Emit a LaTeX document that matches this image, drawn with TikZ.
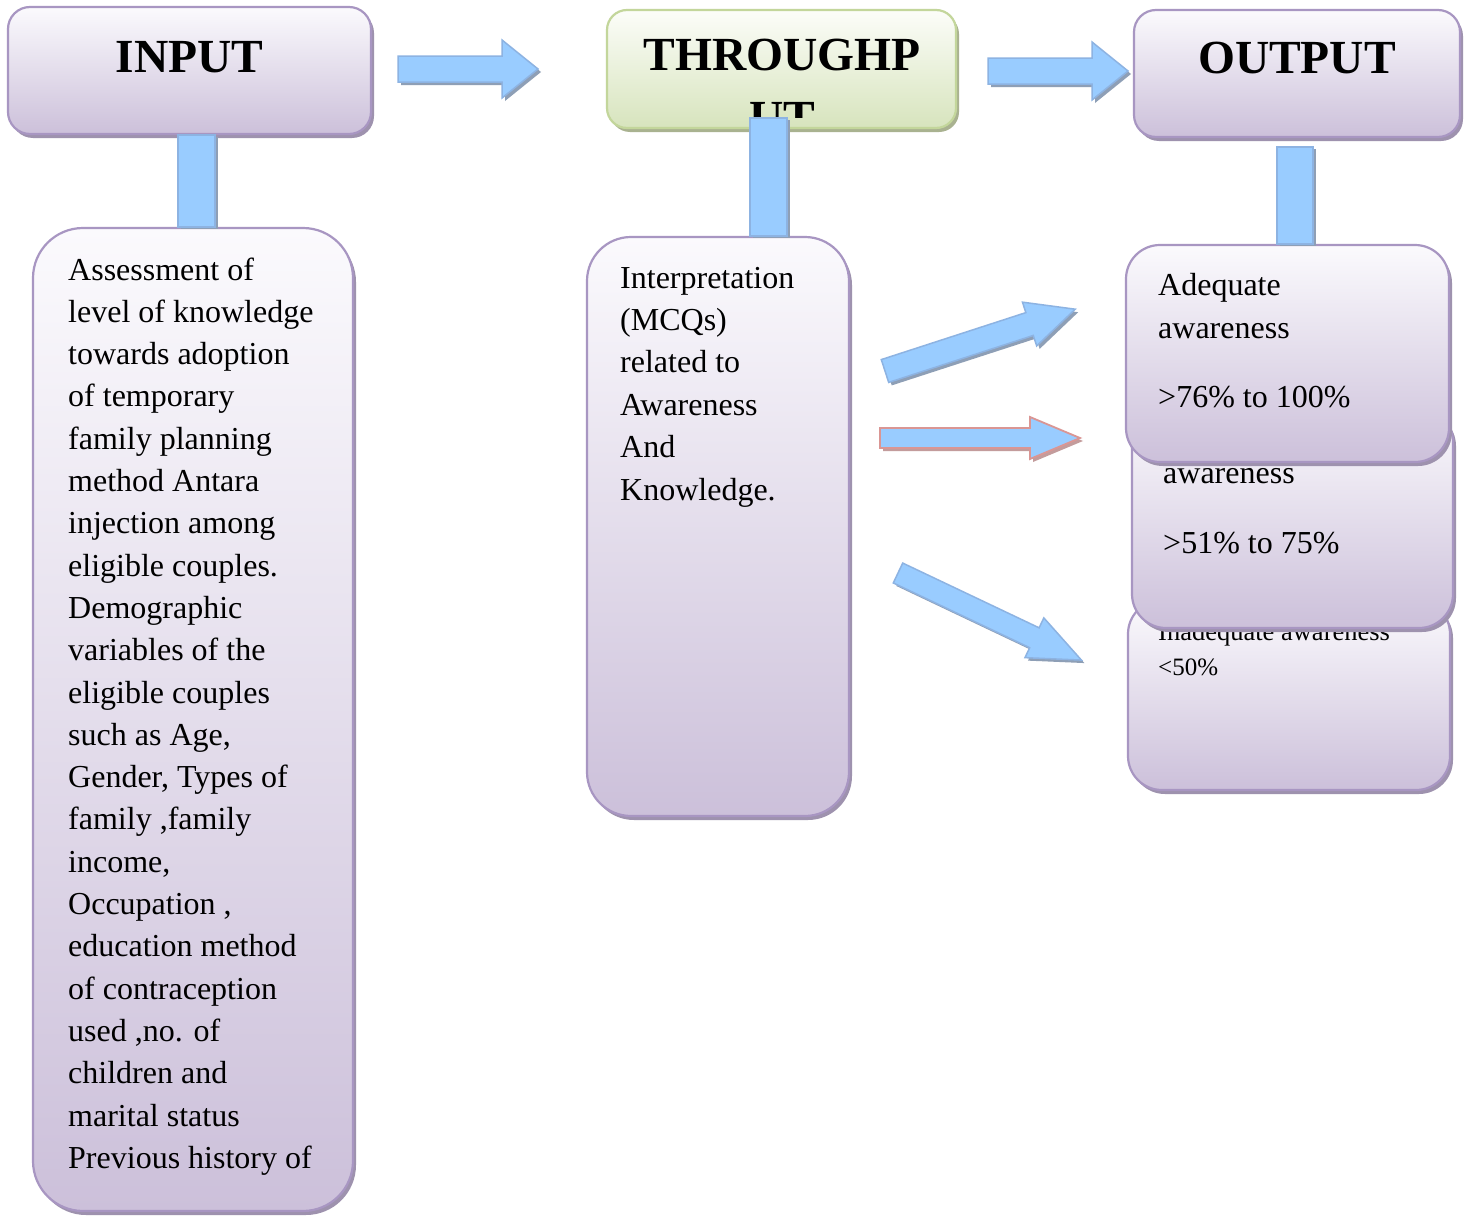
\documentclass[tikz,border=0pt]{standalone}
\usepackage{fontspec}
\setmainfont{Liberation Serif}
\usetikzlibrary{shadows,calc}
\definecolor{boxtop}{HTML}{FBFAFD}
\definecolor{boxbot}{HTML}{CCC0DA}
\definecolor{boxborder}{HTML}{A896C2}
\definecolor{boxshadow}{HTML}{9E92AE}
\definecolor{gtop}{HTML}{FCFDF9}
\definecolor{gbot}{HTML}{D7E4BD}
\definecolor{gborder}{HTML}{C3D69B}
\definecolor{gshadow}{HTML}{A9B290}
\definecolor{arrowfill}{HTML}{99CCFF}
\definecolor{arrowborder}{HTML}{8DB3E2}
\definecolor{arrowshadow}{HTML}{8E9FB6}
\definecolor{redborder}{HTML}{DA9694}
\definecolor{redshadow}{HTML}{C39C9C}
\tikzset{
  pbox/.style={draw=boxborder, line width=2.2pt, top color=boxtop, bottom color=boxbot,
    drop shadow={shadow xshift=3pt, shadow yshift=-4pt, fill=boxshadow, opacity=1},
    inner sep=0pt, rectangle},
  gbox/.style={draw=gborder, line width=2.2pt, top color=gtop, bottom color=gbot,
    drop shadow={shadow xshift=3pt, shadow yshift=-4pt, fill=gshadow, opacity=1},
    inner sep=0pt, rectangle},
  bodytxt/.style={font=\fontsize{32}{42}\selectfont, inner sep=0pt, anchor=base west},
  headtxt/.style={font=\fontsize{47.5}{50}\selectfont\bfseries, inner sep=0pt, anchor=base},
  barsty/.style={draw=arrowborder, line width=1.5pt, fill=arrowfill,
    drop shadow={shadow xshift=3pt, shadow yshift=-2pt, fill=arrowshadow, opacity=1}},
  arrowsty/.style={draw=arrowborder, line width=1.5pt, fill=arrowfill, line join=miter},
  arrowshad/.style={fill=arrowshadow},
  redarrow/.style={draw=redborder, line width=1.8pt, fill=arrowfill, line join=miter},
  redshad/.style={fill=redshadow},
}
% #1 tail coordinate, #2 angle, #3 length, #4 shaft half, #5 head half, #6 head length, #7 style, #8 shadow style
\newcommand\blockarrow[8]{%
  \begin{scope}[shift={([shift={(3pt,-3pt)}]#1)}, rotate=#2]
    \fill[#8] (0,-#4) -- ({#3-#6},-#4) -- ({#3-#6},-#5) -- (#3,0) -- ({#3-#6},#5) -- ({#3-#6},#4) -- (0,#4) -- cycle;
  \end{scope}
  \begin{scope}[shift={(#1)}, rotate=#2]
    \draw[#7] (0,-#4) -- ({#3-#6},-#4) -- ({#3-#6},-#5) -- (#3,0) -- ({#3-#6},#5) -- ({#3-#6},#4) -- (0,#4) -- cycle;
  \end{scope}}
\begin{document}
\begin{tikzpicture}[x=1pt, y=-1pt]
\useasboundingbox (0,0) rectangle (1468,1218);
\fill[white] (0,0) rectangle (1468,1218);

% top boxes
\node[pbox, rounded corners=22pt, minimum width=363pt, minimum height=127pt] (in) at (189.5,70.5) {};
\node[gbox, rounded corners=20pt, minimum width=349pt, minimum height=118pt] (thr) at (781.5,69) {};
\node[pbox, rounded corners=22pt, minimum width=326pt, minimum height=127pt] (out) at (1297,73.5) {};

\node[headtxt] (inT) at (189.5,72) {INPUT};
\node[headtxt] (thrT) at (782,70) {THROUGHP};
\begin{scope}
  \clip (607,10) rectangle (958,117);
  \node[headtxt] (thrT2) at (782,133) {UT};
\end{scope}
\node[headtxt] (outT) at (1297,73) {OUTPUT};

% arrows between top boxes
\coordinate (a1) at (398,69);
\coordinate (a2) at (988,71);
\blockarrow{a1}{0}{140}{13}{29}{36}{arrowsty}{arrowshad}
\blockarrow{a2}{0}{140}{13}{29}{36}{arrowsty}{arrowshad}

% left big box
\node[pbox, rounded corners=50pt, minimum width=320pt, minimum height=983pt] (lbox) at (193,719.5) {};
\foreach \t [count=\i] in {Assessment of, level of knowledge, towards adoption, of temporary,
  family planning, method Antara, injection among, eligible couples., Demographic,
  variables of the, eligible couples, {such as Age,}, {Gender, Types of}, {family ,family},
  {income,}, {Occupation ,}, education method, of contraception, {used ,no. of},
  children and, marital status, Previous history of}
  \node[bodytxt] (l\i) at (68,{280+42.3*(\i-1)}) {\t};

% middle box
\node[pbox, rounded corners=44pt, minimum width=262pt, minimum height=579pt] (mid) at (718,526.5) {};
\foreach \t [count=\i] in {Interpretation, (MCQs), related to, Awareness, And, Knowledge.}
  \node[bodytxt] (m\i) at (620,{288+42.4*(\i-1)}) {\t};

% output boxes (bottom first)
\node[pbox, rounded corners=34pt, minimum width=322pt, minimum height=190pt] (o3) at (1289,695) {};
\node[font=\fontsize{26.5}{30}\selectfont, inner sep=0pt, anchor=base west] (o3a) at (1158,640) {Inadequate awareness};
\node[font=\fontsize{25}{30}\selectfont, inner sep=0pt, anchor=base west] (o3b) at (1158,675) {\textless50\%};

\node[pbox, rounded corners=34pt, minimum width=321pt, minimum height=220pt] (o2) at (1292.5,518) {};
\node[bodytxt] (o2a) at (1163,483) {awareness};
\node[bodytxt] (o2b) at (1163,553) {\textgreater51\% to 75\%};

\node[pbox, rounded corners=34pt, minimum width=323pt, minimum height=217pt] (o1) at (1287.5,353.5) {};
\node[bodytxt] (o1a) at (1158,295) {Adequate};
\node[bodytxt] (o1b) at (1158,338) {awareness};
\node[bodytxt] (o1c) at (1158,407) {\textgreater76\% to 100\%};

% vertical connector bars
\draw[barsty] ([xshift=-11.5pt]in.south) rectangle ([xshift=22pt]lbox.north);
\draw[barsty] ([xshift=-31.5pt,yshift=11pt]thr.south) rectangle ([xshift=69pt]mid.north);
\draw[barsty] ([xshift=-20pt,yshift=-9pt]out.south) rectangle ([xshift=25.5pt]o1.north);

% arrows from middle box to outputs
\coordinate (a3) at (885,371);
\coordinate (a4) at (880,438);
\coordinate (a5) at (898,573);
\blockarrow{a3}{18}{200}{12}{23}{48}{arrowsty}{arrowshad}
\blockarrow{a4}{0}{200}{10}{21}{50}{redarrow}{redshad}
\blockarrow{a5}{-25.4}{203}{11}{22}{52}{arrowsty}{arrowshad}
\end{tikzpicture}
\end{document}
